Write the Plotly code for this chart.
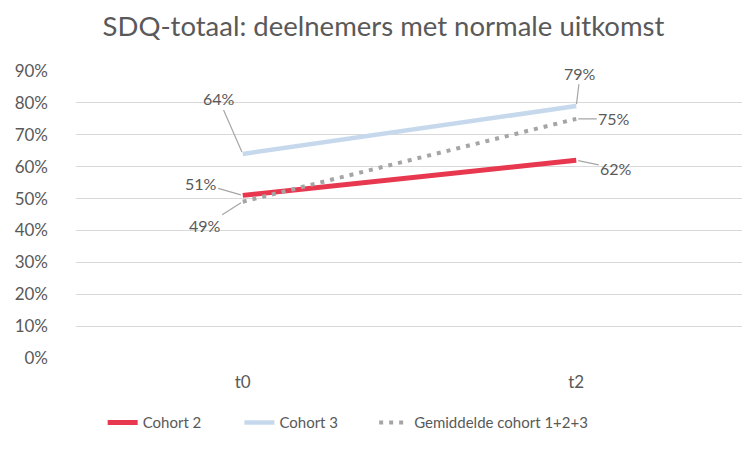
import plotly.graph_objects as go

categories = ["t0", "t2"]
cohort2 = [0.51, 0.62]
cohort3 = [0.64, 0.79]
gemiddelde = [0.49, 0.75]
y_ticks = [0, 0.1, 0.2, 0.3, 0.4, 0.5, 0.6, 0.7, 0.8, 0.9]
y_tick_labels = ["0%", "10%", "20%", "30%", "40%", "50%", "60%", "70%", "80%", "90%"]

FONT = "Lato"
TXT = "#595959"

fig = go.Figure()
fig.add_trace(go.Scatter(x=categories, y=cohort2, mode="lines", name="Cohort 2",
                         line=dict(color="#E8384F", width=5), legend="legend"))
fig.add_trace(go.Scatter(x=categories, y=cohort3, mode="lines", name="Cohort 3",
                         line=dict(color="#C6D8EC", width=4.5), legend="legend2"))
fig.add_trace(go.Scatter(x=categories, y=gemiddelde, mode="lines", name="Gemiddelde cohort 1+2+3",
                         line=dict(color="#A5A5A5", width=4, dash="4px,6px"), legend="legend3"))

label_specs = [
    (cohort3, [(-24, -55), (4, -33)]),
    (cohort2, [(-42, -12), (40, 8)]),
    (gemiddelde, [(-38, 24), (38, 0)]),
]
for values, offsets in label_specs:
    for cat, val, (ax, ay) in zip(categories, values, offsets):
        fig.add_annotation(x=cat, y=val, text=f"{round(val*100)}%", showarrow=True,
                           arrowhead=0, arrowwidth=1.2, arrowcolor="#A6A6A6",
                           ax=ax, ay=ay, standoff=2,
                           font=dict(family=FONT, size=16, color=TXT))

leg_common = dict(orientation="h", xanchor="left", y=-0.226, yanchor="middle",
                  font=dict(family=FONT, size=15, color=TXT), bgcolor="rgba(0,0,0,0)")

fig.update_layout(
    width=742, height=442,
    paper_bgcolor="white", plot_bgcolor="white",
    margin=dict(l=57, r=7, t=63, b=92),
    title=dict(text="SDQ-totaal: deelnemers met normale uitkomst", x=0.506, xanchor="center",
               y=0.959, yanchor="middle",
               font=dict(family=FONT, size=27.5, color=TXT)),
    font=dict(family=FONT, size=17, color=TXT),
    showlegend=True,
    legend=dict(x=0.040, **leg_common),
    legend2=dict(x=0.245, **leg_common),
    legend3=dict(x=0.447, **leg_common),
    xaxis=dict(type="category", range=[-0.5, 1.5], showgrid=False, zeroline=False,
               showline=False, ticks="", ticklabelstandoff=12,
               tickfont=dict(family=FONT, size=17, color=TXT)),
    yaxis=dict(range=[0, 0.9], tickvals=y_ticks, ticktext=y_tick_labels,
               showgrid=True, gridcolor="#D9D9D9", gridwidth=1.3, zeroline=False,
               showline=False, ticks="", ticklabelstandoff=27,
               tickfont=dict(family=FONT, size=17, color=TXT)),
)

fig.write_html("out.html")
